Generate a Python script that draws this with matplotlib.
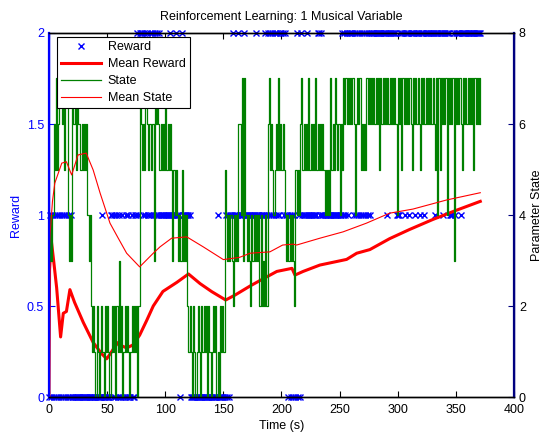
import numpy as np
import matplotlib
matplotlib.use("Agg")
import matplotlib.pyplot as plt

plt.rcParams["font.family"] = ["Liberation Sans", "DejaVu Sans"]
plt.rcParams["font.size"] = 9
# keep every one-second toggle of the state trace
plt.rcParams["path.simplify"] = False

# ── logged run, one sample per second, one digit per sample ─────────────────
STATE_LOG = [
    "3434", "65756", "7767577", "4343", "767576", "6565656", "434",
    "212102", "101210", "212101212021", "3120121", "21012121202",
    "765657656", "6563", "767", "65656575656", "53545", "434353434",
    "2121021012", "1021212021", "0121201021", "21",
    "54343", "4324343664", "7374343243", "434342423242", "67565",
    "4565756565", "434343432", "5454", "67565657565657565656", "545454",
    "75657656465",
    "7676767676", "4", "6767", "56565", "76767676767", "5", "76767676",
    "7676764767", "5767676765", "7676765767", "6767676765", "7475767674",
    "7676737676", "7657676767", "675767676",
]

REWARD_LOG = [
    "010101010101010101010", "0000000000000000000000000",
    "1", "000000", "1101010100100101001001", "12122",
    "212121121212121", "21111111121111211102", "11111110",
    "00000000000000000000001000000", "10101",
    "121111211112", "111111111", "2", "1111111", "2121212121211", "222121",
    "101010102010",
    "2", "1111", "2", "11111111", "2212", "11111111111111111", "212121",
    "2222", "121212121212121",
    "22222222222222", "1", "2222222", "111", "2222", "1", "222", "1",
    "2222", "1", "222", "1", "222", "1", "22222222", "1", "222222", "1",
    "22222", "111", "2", "1", "2222", "1", "22222222222222222",
]

# running means (seconds, value)
MEAN_REWARD_T = [0, 0.5, 2, 4, 6.6, 10, 12.3, 15, 18, 22, 29.5, 38, 45,
                 49.6, 53, 56, 59.6, 63, 66.8, 72, 78, 84, 89.7, 98, 110,
                 120, 130, 140, 152, 160, 173, 181.5, 196, 209, 211.6,
                 218.6, 233, 256, 264.7, 276, 293, 310, 330, 350, 371]
MEAN_REWARD = [0.0, 0.70, 0.86, 0.75, 0.60, 0.33, 0.46, 0.47, 0.59, 0.52,
               0.41, 0.30, 0.24, 0.21, 0.24, 0.27, 0.30, 0.28, 0.27, 0.285,
               0.34, 0.42, 0.50, 0.58, 0.63, 0.676, 0.623, 0.579, 0.533,
               0.56, 0.61, 0.64, 0.69, 0.707, 0.67, 0.69, 0.725, 0.756,
               0.79, 0.81, 0.87, 0.92, 0.975, 1.025, 1.075]

MEAN_STATE_T = [0, 1, 3, 5, 8, 11, 15, 19.5, 25, 32, 38, 44, 52.5, 59.6,
                66.8, 78, 89.7, 95.5, 105.5, 118.5, 132.7, 150, 164, 173,
                190, 201, 210, 213, 233, 253, 273, 293, 313, 342, 371]
MEAN_STATE = [3.0, 3.6, 4.3, 4.7, 4.92, 5.14, 5.17, 4.88, 5.32, 5.36, 4.99,
              4.48, 3.82, 3.49, 3.16, 2.86, 3.16, 3.30, 3.49, 3.52, 3.30,
              3.02, 3.07, 3.16, 3.19, 3.34, 3.36, 3.34, 3.49, 3.63, 3.82,
              4.04, 4.13, 4.33, 4.49]

state = np.array([int(c) for c in "".join(STATE_LOG)])
reward = np.array([int(c) for c in "".join(REWARD_LOG)])
t_state = np.arange(len(state))
t_reward = np.arange(len(reward))

BLUE = "#0000ff"
RED = "#ff0000"
GREEN = "#008000"
NAVY = "#000080"

fig = plt.figure(figsize=(5.43, 4.33), dpi=100)
fig.patch.set_facecolor("white")
ax1 = fig.add_axes([0.0902, 0.0831, 0.8564, 0.8407])
ax2 = ax1.twinx()
ax2.set_position(ax1.get_position())

h_rew, = ax1.plot(t_reward, reward, "x", color=BLUE, ms=4.8, mew=1.0,
                  clip_on=False, label="Reward")
h_mrew, = ax1.plot(MEAN_REWARD_T, MEAN_REWARD, color=RED, lw=2.2,
                   label="Mean Reward")
h_state, = ax2.plot(t_state, state, color=GREEN, lw=0.9,
                    drawstyle="steps-post", label="State")
h_mstate, = ax2.plot(MEAN_STATE_T, MEAN_STATE, color=RED, lw=0.8,
                     label="Mean State")

ax1.set_xlim(0, 400)
ax1.set_ylim(0, 2)
ax2.set_ylim(0, 8)
ax1.set_xticks(np.arange(0, 401, 50))
ax1.set_yticks([0, 0.5, 1, 1.5, 2])
ax1.set_yticklabels(["0", "0.5", "1", "1.5", "2"])
ax2.set_yticks([0, 2, 4, 6, 8])

ax1.tick_params(axis="x", direction="in", top=True, length=4, colors="black",
                labelsize=9, pad=5)
ax1.tick_params(axis="y", direction="in", length=4, colors=BLUE,
                labelsize=9)
ax2.tick_params(axis="y", direction="in", length=4, colors="black",
                labelsize=9)
ax2.tick_params(axis="y", which="both", color=NAVY)

for ax in (ax1, ax2):
    ax.spines["top"].set_color("black")
    ax.spines["bottom"].set_color("black")
    ax.spines["left"].set_color(BLUE)
    ax.spines["right"].set_color(NAVY)
    for s in ax.spines.values():
        s.set_linewidth(1.0)
ax2.spines["right"].set_linewidth(1.6)
ax1.spines["left"].set_linewidth(1.6)

ax1.set_xlabel("Time (s)", fontsize=9, labelpad=3)
ax1.set_ylabel("Reward", color=BLUE, fontsize=9)
ax1.yaxis.set_label_coords(-0.058, 0.5)
ax2.set_ylabel("Parameter State", color="black", fontsize=9)
ax2.yaxis.set_label_coords(1.036, 0.5)
ax1.set_title("Reinforcement Learning: 1 Musical Variable", fontsize=9,
              pad=9)

leg = ax2.legend(handles=[h_rew, h_mrew, h_state, h_mstate],
                 loc="upper left", bbox_to_anchor=(0.017, 0.99),
                 borderaxespad=0, fontsize=9, fancybox=False, framealpha=1,
                 edgecolor="black", handlelength=3.2, handletextpad=0.5,
                 labelspacing=0.4, borderpad=0.35)
leg.get_frame().set_linewidth(0.8)

fig.savefig("out.png", dpi=100, facecolor="white")
